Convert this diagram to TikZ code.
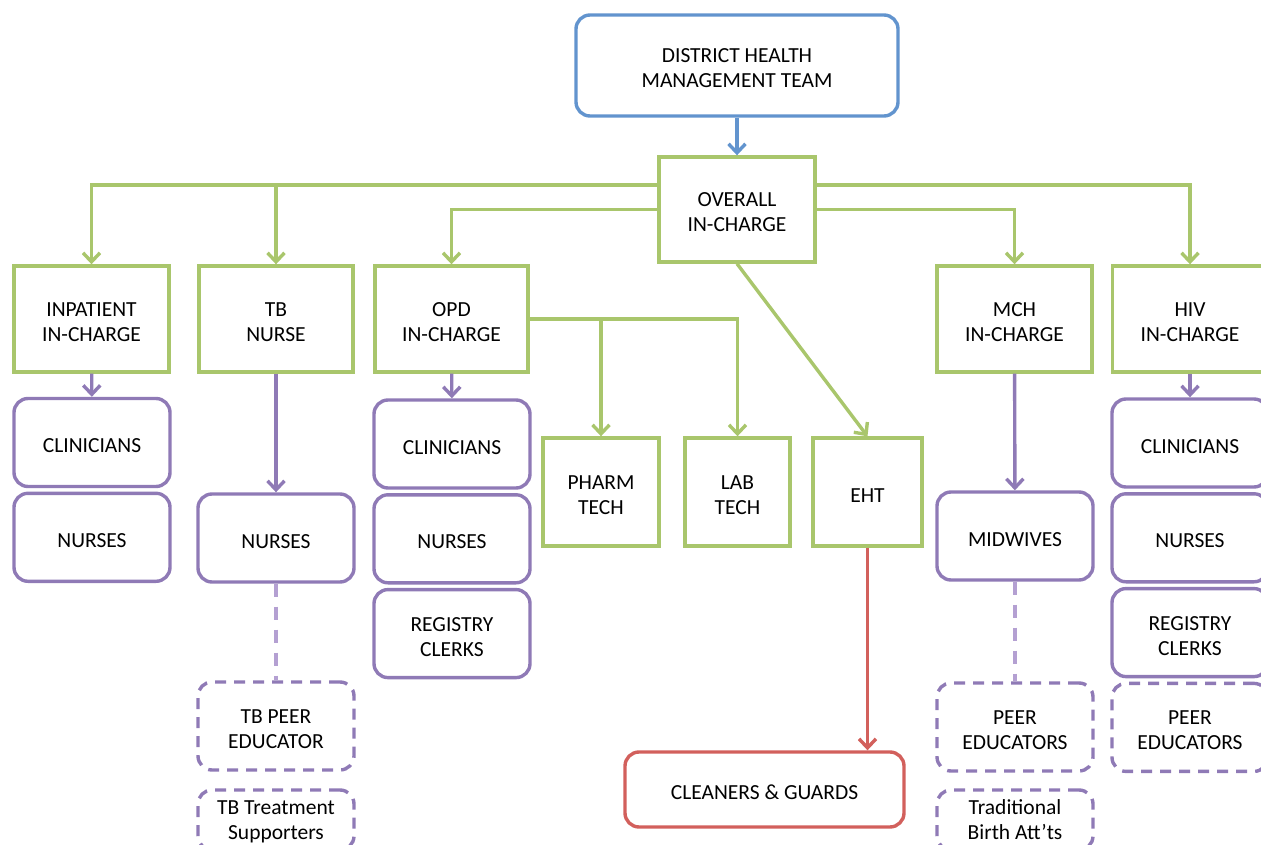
\documentclass[tikz,border=0pt]{standalone}
\usepackage{fontspec}
\setmainfont{Carlito}
\usepackage{tikz}
\usetikzlibrary{arrows.meta,positioning}

\definecolor{dhblue}{HTML}{6294CE}
\definecolor{dhgreen}{HTML}{A9C66C}
\definecolor{dhpurple}{HTML}{8F7AB6}
\definecolor{dhlilac}{HTML}{B4A0D2}
\definecolor{dhred}{HTML}{D2605C}

\begin{document}
\begin{tikzpicture}[x=1pt,y=-1pt,>={Straight Barb[length=9pt,width=17pt]},line width=3.4pt,node distance=3.4pt,font=\fontsize{21.5}{25}\selectfont]
	\tikzstyle{every node}=[align=center,text=black,inner sep=2pt,text height=45pt,text depth=0pt]
	\tikzstyle{single}=[text height=20pt]
	\tikzstyle{board}=[draw=dhblue,rounded corners=14pt,minimum width=322pt,minimum height=101pt]
	\tikzstyle{head}=[draw=dhgreen,minimum width=155pt,minimum height=106pt]
	\tikzstyle{tech}=[draw=dhgreen,minimum height=108pt]
	\tikzstyle{staff}=[draw=dhpurple,rounded corners=14pt,minimum width=156pt,minimum height=88pt]
	\tikzstyle{volunteer}=[staff,dash pattern=on 11pt off 8pt]
	\tikzstyle{helper}=[volunteer,minimum height=60pt,text height=39pt]
	\tikzstyle{support}=[draw=dhred,rounded corners=14pt,minimum width=279pt,minimum height=75pt,single]
	\tikzstyle{elbow}=[to path={-| (\tikztotarget)}]
	\tikzstyle{boardlink}=[->,dhblue]
	\tikzstyle{headlink}=[->,dhgreen]
	\tikzstyle{stafflink}=[->,dhpurple]
	\tikzstyle{supportlink}=[->,dhred]
	\tikzstyle{peerlink}=[-,dhlilac,dash pattern=on 13pt off 10pt]

  \useasboundingbox (0,0) rectangle (1261,845);

  \node[board]             (DHMT)  at (737,65.5)  {DISTRICT HEALTH\\MANAGEMENT TEAM};
  \node[head,minimum width=156pt,minimum height=105pt] (OIC) at (737,209.5) {OVERALL\\IN-CHARGE};

  \node[head]              (IPD)   at (91.5,319)  {INPATIENT\\IN-CHARGE};
  \node[head,minimum width=154pt] (TBN) at (276,319) {TB\\NURSE};
  \node[head,minimum width=153pt] (OPD) at (451.5,319) {OPD\\IN-CHARGE};
  \node[head]              (MCH)   at (1014.5,319) {MCH\\IN-CHARGE};
  \node[head]              (HIV)   at (1190,319)  {HIV\\IN-CHARGE};

  \node[tech,minimum width=116pt] (PHARM) at (601,492)   {PHARM\\TECH};
  \node[tech,minimum width=105pt] (LAB)   at (737.5,492) {LAB\\TECH};
  \node[tech,single,minimum width=109pt] (EHT) at (867.5,492) {EHT};
  \node[support]           (CLEAN) at (764.5,789.5) {CLEANERS \& GUARDS};

  \node[staff,single]      (IPDC)  at (92,442.5)  {CLINICIANS};
  \node[staff,single]      (IPDN)  [below=of IPDC] {NURSES};

  \node[staff,single]      (TBNN)  at (276,538)   {NURSES};
  \node[volunteer]         (TBPE)  at (276,726)   {TB PEER\\EDUCATOR};
  \node[helper]            (TBTS)  at (276,820)   {TB Treatment\\Supporters};

  \node[staff,single]      (OPDC)  at (452,444)   {CLINICIANS};
  \node[staff,single]      (OPDN)  [below=of OPDC] {NURSES};
  \node[staff]             (OPDR)  [below=of OPDN] {REGISTRY\\CLERKS};

  \node[staff,single]      (MCHM)  at (1015,536)  {MIDWIVES};
  \node[volunteer]         (MCHP)  at (1015,727)  {PEER\\EDUCATORS};
  \node[helper]            (MCHT)  at (1015,820)  {Traditional\\Birth Att’ts};

  \node[staff,single]      (HIVC)  at (1190,443)  {CLINICIANS};
  \node[staff,single]      (HIVN)  [below=of HIVC] {NURSES};
  \node[staff]             (HIVR)  [below=of HIVN] {REGISTRY\\CLERKS};
  \node[volunteer]         (HIVP)  [below=of HIVR] {PEER\\EDUCATORS};

  \path (DHMT) edge[boardlink] (OIC)
        ([yshift=24.5pt]OIC.west) edge[headlink,elbow] (IPD.north)
        ([yshift=24.5pt]OIC.west) edge[headlink,elbow] (TBN.north)
        (OIC.west) edge[headlink,elbow] (OPD.north)
        (OIC.east) edge[headlink,elbow] (MCH.north)
        ([yshift=24.5pt]OIC.east) edge[headlink,elbow] (HIV.north)
        (OIC.south) edge[headlink] (EHT.north)
        (OPD.east) edge[headlink,elbow] (PHARM.north)
        (OPD.east) edge[headlink,elbow] (LAB.north)
        (EHT.south) edge[supportlink] (EHT.south |- CLEAN.north)
        (IPD) edge[stafflink] (IPDC)
        (TBN) edge[stafflink] (TBNN)
        (OPD) edge[stafflink] (OPDC)
        (MCH) edge[stafflink] (MCHM)
        (HIV) edge[stafflink] (HIVC)
        (TBNN) edge[peerlink] (TBPE)
        (MCHM) edge[peerlink] (MCHP);

\end{tikzpicture}
\end{document}
